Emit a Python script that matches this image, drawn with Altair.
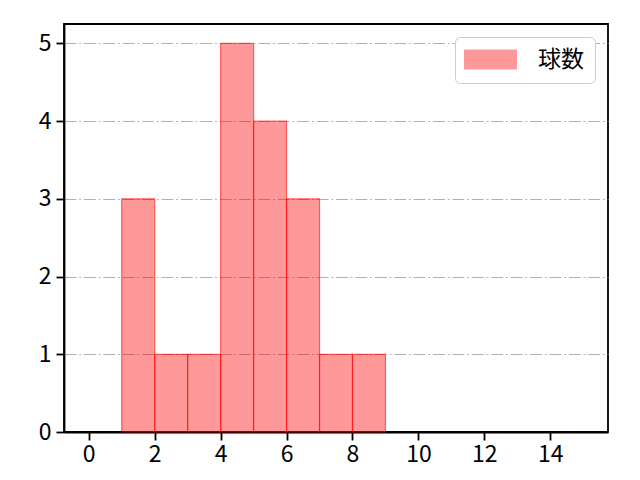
import altair as alt
import pandas as pd

bin_start = [1, 2, 3, 4, 5, 6, 7, 8]
bin_end = [2, 3, 4, 5, 6, 7, 8, 9]
counts = [3, 1, 1, 5, 4, 3, 1, 1]
series = ["球数"] * len(counts)

df = pd.DataFrame({"x0": bin_start, "x1": bin_end, "count": counts, "series": series})

FONT = "Noto Sans CJK JP"

bars = alt.Chart(df).mark_bar(
    fillOpacity=0.4, stroke="red", strokeOpacity=0.55, strokeWidth=1.2
).encode(
    x=alt.X("x0:Q", scale=alt.Scale(domain=[-0.75, 15.75], nice=False, zero=False),
            axis=alt.Axis(values=[0, 2, 4, 6, 8, 10, 12, 14], title=None, grid=False,
                          format="d", labelPadding=3)),
    x2="x1:Q",
    y=alt.Y("count:Q", scale=alt.Scale(domain=[0, 5.25], nice=False),
            axis=alt.Axis(values=[0, 1, 2, 3, 4, 5], title=None, grid=True,
                          gridColor="#b0b0b0", gridDash=[11.8, 2.9, 1.8, 2.9], gridWidth=1.1,
                          format="d", labelPadding=5)),
    y2=alt.datum(0),
    color=alt.Color("series:N", scale=alt.Scale(domain=["球数"], range=["red"]),
                    legend=alt.Legend(title=None, orient="top-right", offset=13,
                                      symbolType="M-2.6,-0.95H2.6V0.95H-2.6Z", symbolSize=400,
                                      symbolOpacity=0.4, symbolStrokeColor="red",
                                      symbolOffset=13,
                                      strokeColor="#cccccc", padding=11, cornerRadius=5,
                                      fillColor="white", labelOffset=36,
                                      symbolStrokeWidth=1)),
)

chart = bars.properties(
    width=544, height=408,
    autosize=alt.AutoSizeParams(type="none"),
    padding={"left": 56, "top": 16, "right": 24, "bottom": 40},
).configure_view(stroke="black", strokeWidth=1.8).configure_axis(
    domainWidth=1.8, tickWidth=1.8, labelFont=FONT, labelFontSize=23,
    labelColor="black", tickColor="black", domainColor="black", tickSize=8,
).configure_legend(labelFont=FONT, labelFontSize=23, labelColor="black")

chart.save("out.html", embed_options={"renderer": "svg", "actions": False})
